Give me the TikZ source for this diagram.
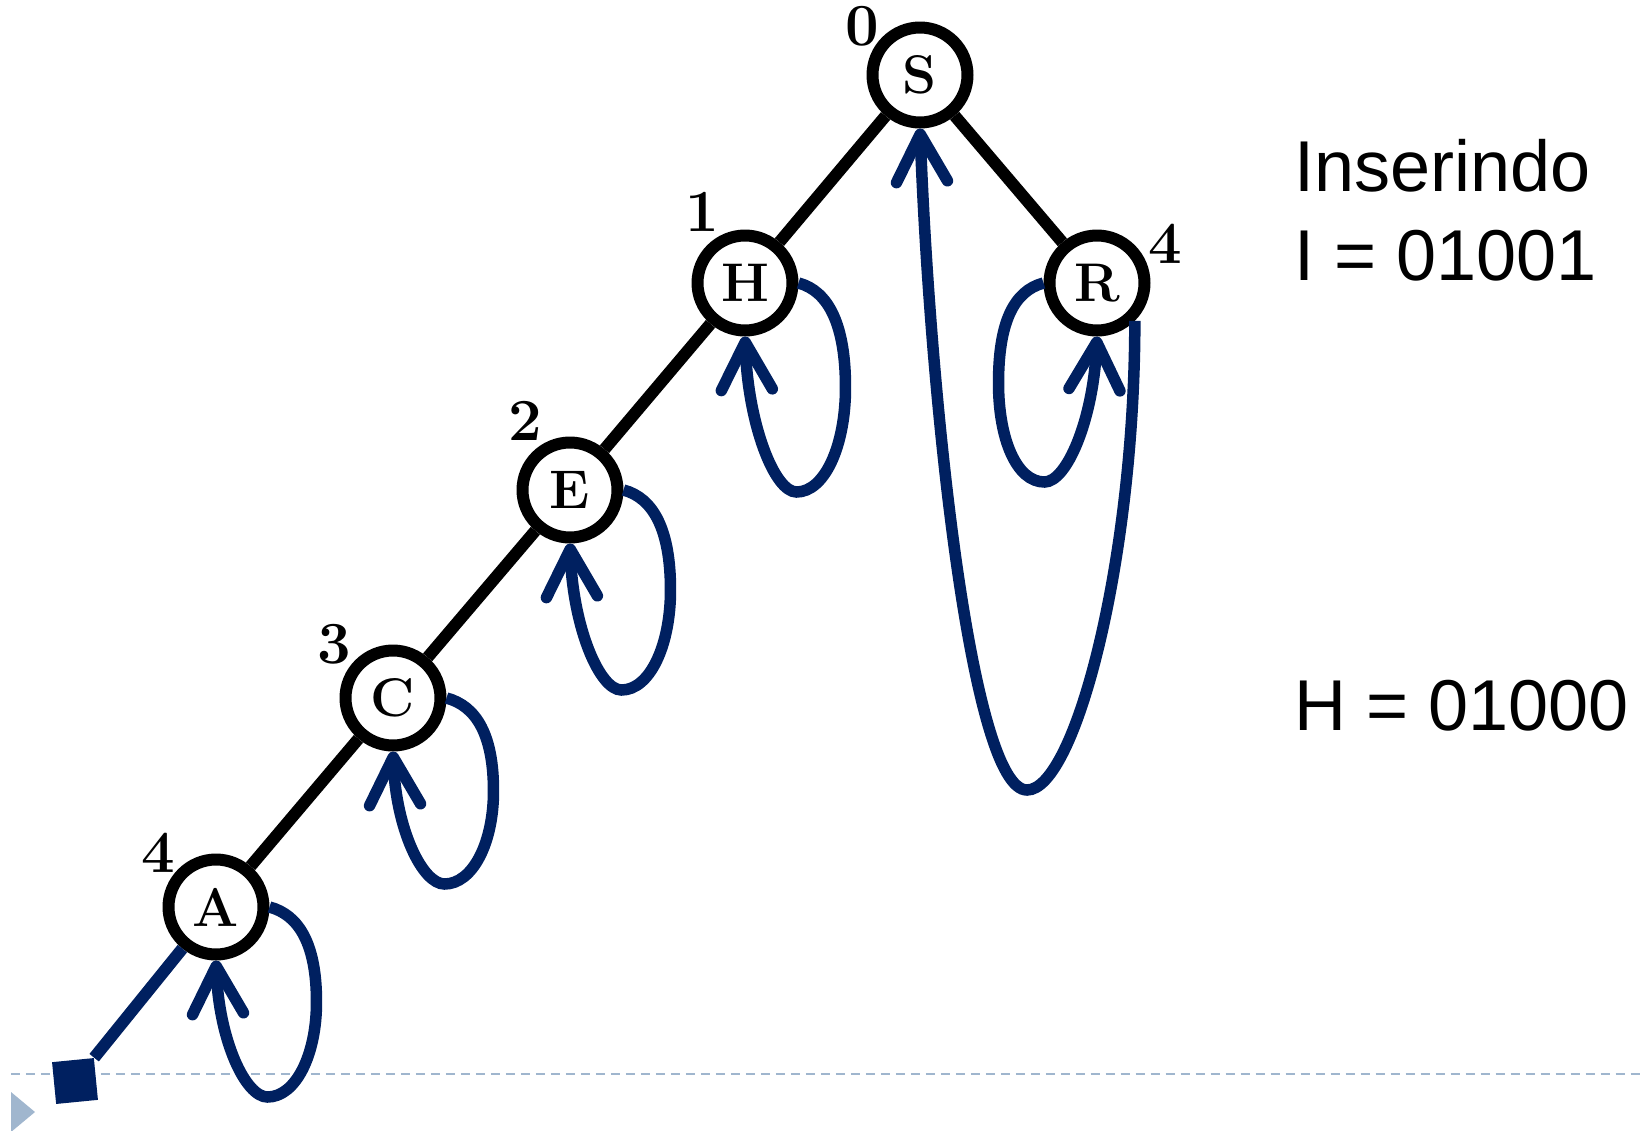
\documentclass[tikz,border=0pt]{standalone}
\usepackage{fontspec}
\newfontfamily\arialfont{Liberation Sans}
\usetikzlibrary{arrows.meta,positioning,calc}
\definecolor{navy}{RGB}{0,32,96}
\definecolor{slide}{RGB}{160,182,206}

\begin{document}
\begin{tikzpicture}[x=0.02cm, y=-0.02cm, >={Straight Barb[length=0.95cm,width=1.02cm,round]},
  keynode/.style={circle, draw, fill=white, line width=0.24cm, minimum size=1.9cm, inner sep=0pt, font=\fontsize{31}{31}\selectfont\bfseries},
  lvl/.style={inner sep=0pt, font=\fontsize{34}{34}\selectfont\bfseries},
  link/.style={line width=0.24cm},
  selfloop/.style={->, navy, line width=0.23cm},
  txt/.style={anchor=base west, inner sep=0pt, font=\arialfont\fontsize{41}{41}\selectfont}]
\useasboundingbox (0,0) rectangle (1650,1130);
% slide footer
\draw[slide, line width=0.04cm, dash pattern=on 0.18cm off 0.12cm] (11,1074) -- (1642,1074);
\fill[slide] (11,1092) -- (35,1112) -- (11,1132) -- cycle;
% tree
\foreach \n/\x/\y in {S/920/75, H/745/283, E/570/490, C/393/698, A/216/907, R/1097/283}
  \node[keynode] (\n) at (\x,\y) {\n};
\foreach \n/\x/\y/\l in {S/862/26/0, H/702/212/1, E/525/421/2, C/334/644/3, A/158/853/4, R/1165/244/4}
  \node[lvl] (l\n) at (\x,\y) {\oldstylenums{\l}};
\node[fill=navy, minimum size=0.84cm, inner sep=0pt, rotate=5.6] (nil) at (75,1081) {};
\foreach \a/\b in {S/H, S/R, H/E, E/C, C/A}
  \draw[link] (\a) -- (\b);
\draw[link, navy] (A) -- (nil.north east);
% back links
\foreach \n/\d in {H/209, E/200, C/186, A/190}
  \draw[selfloop] (\n.east) .. controls +(30,8) and +(0,-0.3*\d) .. ++(47,0.5*\d)
    .. controls +(0,0.28*\d) and +(28,0) .. ++(-49,0.5*\d)
    .. controls +(-22,0) and +(3,0.42*\d) .. (\n.south);
\draw[selfloop] (R.west) .. controls +(-30,8) and +(0,-60) .. ++(-45,100)
  .. controls +(0,56) and +(-28,0) .. ++(46,99)
  .. controls +(22,0) and +(-4,84) .. (R.south);
\coordinate (bend) at (1027,790);
\draw[selfloop] (R.south east) .. controls +(0,240) and +(48,0) .. (bend)
  .. controls +(-56,0) and +(10,270) .. (S.south);
% keys
\node[txt] (ins) at (1294,191) {Inserindo};
\node[txt] (keyI) at (1294,280) {I = 01001};
\node[txt] (keyH) at (1294,730) {H = 01000};
\end{tikzpicture}
\end{document}
